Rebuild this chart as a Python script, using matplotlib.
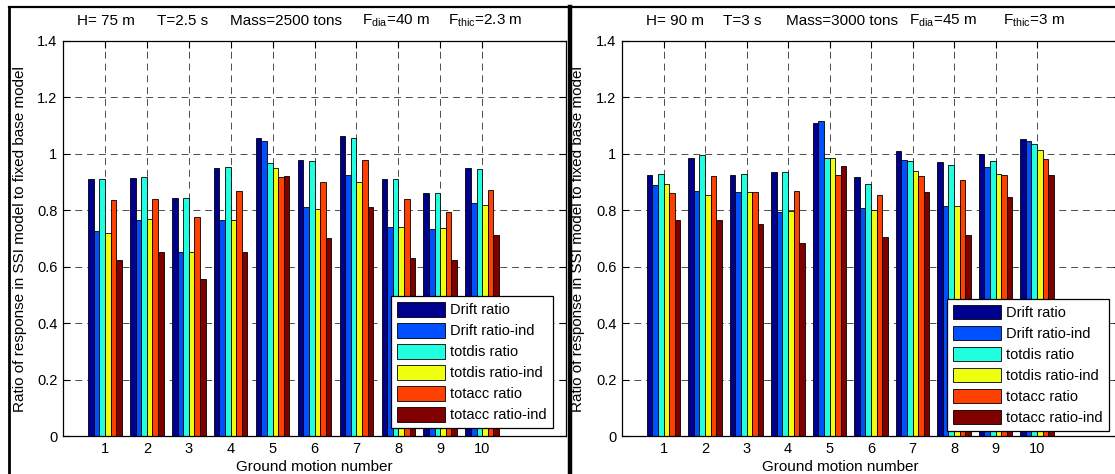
import numpy as np
import matplotlib
matplotlib.use("Agg")
import matplotlib.pyplot as plt
from matplotlib.lines import Line2D

plt.rcParams['font.family'] = ['Liberation Sans', 'DejaVu Sans']
plt.rcParams['mathtext.fontset'] = 'custom'
plt.rcParams['mathtext.rm'] = 'Liberation Sans'
plt.rcParams['mathtext.it'] = 'Liberation Sans'
plt.rcParams['font.size'] = 10.5
plt.rcParams['lines.scale_dashes'] = False

# data
motions = np.arange(1, 11)
series_names = ['Drift ratio', 'Drift ratio-ind', 'totdis ratio',
                'totdis ratio-ind', 'totacc ratio', 'totacc ratio-ind']
colors = ['#00008F', '#0050FF', '#20FFDF', '#EFFF10', '#FF4000', '#800000']

# left: H=75 m
drift_L = [0.911, 0.914, 0.844, 0.951, 1.057, 0.979, 1.063, 0.911, 0.863, 0.949]
drift_ind_L = [0.726, 0.767, 0.651, 0.767, 1.044, 0.811, 0.924, 0.742, 0.734, 0.826]
totdis_L = [0.910, 0.918, 0.844, 0.955, 0.968, 0.974, 1.056, 0.911, 0.863, 0.946]
totdis_ind_L = [0.721, 0.770, 0.651, 0.767, 0.949, 0.804, 0.899, 0.742, 0.736, 0.818]
totacc_L = [0.836, 0.840, 0.775, 0.869, 0.917, 0.901, 0.978, 0.840, 0.793, 0.873]
totacc_ind_L = [0.624, 0.651, 0.558, 0.651, 0.920, 0.701, 0.811, 0.631, 0.624, 0.714]

# right: H=90 m
drift_R = [0.926, 0.987, 0.926, 0.934, 1.109, 0.918, 1.011, 0.971, 0.998, 1.052]
drift_ind_R = [0.888, 0.870, 0.864, 0.793, 1.118, 0.808, 0.978, 0.815, 0.954, 1.044]
totdis_R = [0.928, 0.996, 0.928, 0.937, 0.987, 0.893, 0.974, 0.962, 0.974, 1.035]
totdis_ind_R = [0.893, 0.855, 0.864, 0.799, 0.987, 0.800, 0.939, 0.815, 0.928, 1.014]
totacc_R = [0.860, 0.922, 0.864, 0.868, 0.926, 0.853, 0.921, 0.906, 0.925, 0.981]
totacc_ind_R = [0.766, 0.766, 0.750, 0.684, 0.956, 0.707, 0.865, 0.711, 0.848, 0.925]

left_series = [drift_L, drift_ind_L, totdis_L, totdis_ind_L, totacc_L, totacc_ind_L]
right_series = [drift_R, drift_ind_R, totdis_R, totdis_ind_R, totacc_R, totacc_ind_R]

left_title = ['H= 75 m', 'T=2.5 s', 'Mass=2500 tons', r'F$_{\rm dia}$=40 m', r'F$_{\rm thic}$=2.3 m']
right_title = ['H= 90 m', 'T=3 s', 'Mass=3000 tons', r'F$_{\rm dia}$=45 m', r'F$_{\rm thic}$=3 m']
ylab = 'Ratio of response in SSI model to fixed base model'
xlab = 'Ground motion number'

W, H = 1115, 474
fig = plt.figure(figsize=(W / 100, H / 100), dpi=100)


def px(x0, y0, x1, y1):
    return [x0 / W, 1 - y1 / H, (x1 - x0) / W, (y1 - y0) / H]


def panel(rect, series, title_parts, title_x, ylab_x, xlab_x, leg_anchor):
    ax = fig.add_axes(px(*rect))
    n = len(series)
    bw = 0.8 / n
    for i, vals in enumerate(series):
        ax.bar(motions + (i - (n - 1) / 2) * bw, vals, width=bw, color=colors[i],
               edgecolor='black', linewidth=0.6, label=series_names[i], zorder=2)
    ax.set_xlim(0, 12)
    ax.set_ylim(0, 1.4)
    ax.set_xticks(motions)
    ax.set_yticks(np.arange(0, 1.41, 0.2))
    ax.set_yticklabels(['0', '0.2', '0.4', '0.6', '0.8', '1', '1.2', '1.4'])
    ax.tick_params(direction='in', length=5, top=True, right=True, width=0.8,
                   labelsize=10.5, pad=4)
    ax.set_axisbelow(True)
    ax.grid(True, color='0.3', linestyle=(0, (5, 3.5)), linewidth=0.7)
    for s in ax.spines.values():
        s.set_linewidth(0.9)
    leg = ax.legend(loc='lower right', bbox_to_anchor=leg_anchor, borderaxespad=0,
                    fancybox=False, edgecolor='black', framealpha=1,
                    handlelength=3.3, handleheight=1.15, handletextpad=0.35,
                    labelspacing=0.4, borderpad=0.4, fontsize=10.5)
    leg.get_frame().set_linewidth(0.9)
    for tx, t in zip(title_x, title_parts):
        fig.text(tx / W, 1 - 21 / H, t, ha='left', va='center', fontsize=11)
    fig.text(ylab_x / W, 1 - 239 / H, ylab, rotation=90, ha='center',
             va='center', fontsize=11)
    fig.text(xlab_x / W, 1 - 467 / H, xlab, ha='center', va='center', fontsize=11)
    return ax


panel((63, 41, 566, 436), left_series, left_title,
      [77, 157, 230, 362, 448], 20, 314, (0.974, 0.02))
panel((622, 41, 1120, 436), right_series, right_title,
      [646, 723, 786, 909, 1003], 578, 840, (0.977, 0.013))

# frame lines round the two pictures
fig.add_artist(Line2D([9 / W, 1], [1 - 6.5 / H] * 2, color='black', lw=1.6))
fig.add_artist(Line2D([9 / W] * 2, [0, 1 - 6.5 / H], color='black', lw=2))
fig.add_artist(Line2D([570 / W] * 2, [0, 1 - 6.5 / H], color='black', lw=3.2))

fig.savefig('out.png', dpi=100)
